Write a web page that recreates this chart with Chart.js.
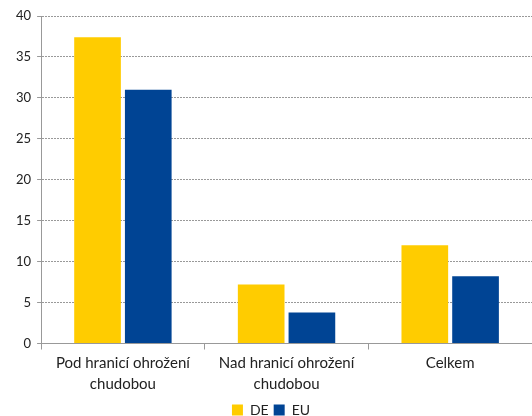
<!DOCTYPE html>
<html>
<head>
<meta charset="utf-8">
<script src="https://cdn.jsdelivr.net/npm/chart.js@4"></script>
<style>
  html, body { margin: 0; padding: 0; background: #fff; overflow: hidden; }
  #wrap { width: 532px; height: 427px; }
</style>
</head>
<body>
<div id="wrap"><canvas id="chart"></canvas></div>
<script>
const categories = [['Pod hranicí ohrožení', 'chudobou'], ['Nad hranicí ohrožení', 'chudobou'], 'Celkem'];
const seriesNames = ['DE', 'EU'];
const deValues = [37.4, 7.2, 12.0];
const euValues = [31.0, 3.8, 8.2];
const yTicks = [0, 5, 10, 15, 20, 25, 30, 35, 40];

const fontFamily = 'Lato, "Open Sans", sans-serif';

new Chart(document.getElementById('chart'), {
    type: 'bar',
    data: {
        labels: categories,
        datasets: [{
            label: seriesNames[0],
            data: deValues,
            backgroundColor: '#ffcc00',
            categoryPercentage: 0.62,
            barPercentage: 0.92
        }, {
            label: seriesNames[1],
            data: euValues,
            backgroundColor: '#004494',
            categoryPercentage: 0.62,
            barPercentage: 0.92
        }]
    },
    options: {
        responsive: true,
        maintainAspectRatio: false,
        animation: false,
        layout: { padding: { top: 16, right: 0, left: 10, bottom: 0 } },
        plugins: {
            legend: {
                position: 'bottom',
                labels: {
                    boxWidth: 11,
                    boxHeight: 11,
                    padding: 5,
                    color: '#222',
                    font: { family: fontFamily, size: 14 }
                }
            },
            tooltip: { enabled: false }
        },
        scales: {
            x: {
                grid: { drawOnChartArea: false, color: '#999', tickLength: 6 },
                border: { color: '#999' },
                ticks: {
                    color: '#222', maxRotation: 0, padding: 4,
                    font: { family: fontFamily, size: 15, lineHeight: 1.35 }
                }
            },
            y: {
                min: 0,
                max: 40,
                afterBuildTicks: axis => { axis.ticks = yTicks.map(v => ({ value: v })); },
                grid: { color: '#999', tickLength: 4 },
                border: { color: '#999', dash: [2, 1] },
                ticks: { color: '#222', padding: 6, font: { family: fontFamily, size: 13 } }
            }
        }
    }
});
</script>
</body>
</html>
